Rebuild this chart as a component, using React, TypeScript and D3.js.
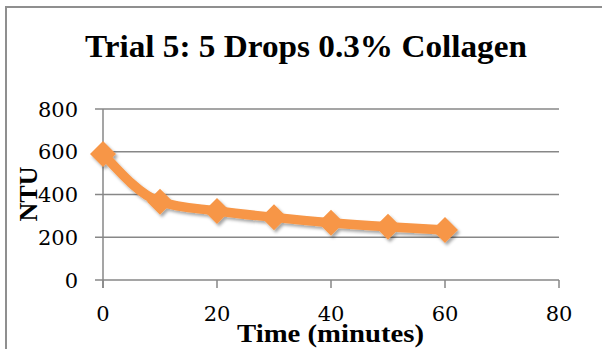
import React from "react";
import * as d3 from "d3";

const times = [0, 10, 20, 30, 40, 50, 60];
const ntu = [590, 366, 323, 293, 268, 249, 234];
const xTicks = [0, 20, 40, 60, 80];
const yTicks = [0, 200, 400, 600, 800];
const title = "Trial 5: 5 Drops 0.3% Collagen";
const xTitle = "Time (minutes)";
const yTitle = "NTU";

const W = 602;
const H = 349;
const serif = "'DejaVu Serif', 'Liberation Serif', serif";
const boldSerif = "'Liberation Serif', serif";

export default function App() {
  const x = d3.scaleLinear().domain([0, 80]).range([103, 559]);
  const y = d3.scaleLinear().domain([0, 800]).range([280, 109]);
  const pts: [number, number][] = times.map((t, i) => [x(t), y(ntu[i])]);
  const line = d3.line().curve(d3.curveMonotoneX)(pts) || "";
  const grid = "#878787";
  const orange = "#F79646";
  const r = 13;
  return (
    <svg
      width={W}
      height={H}
      style={{ position: "absolute", left: 0, top: 0, display: "block", background: "#fff" }}
    >
      <defs>
        <filter id="sh" x="-50%" y="-50%" width="200%" height="200%">
          <feDropShadow dx="2" dy="2.5" stdDeviation="1.8" floodColor="#000" floodOpacity="0.35" />
        </filter>
      </defs>
      <path d={`M6,${H} V7 H${W}`} fill="none" stroke="#8f8f8f" strokeWidth={2} />
      <text
        x={85}
        y={57}
        textLength={442}
        lengthAdjust="spacingAndGlyphs"
        fontFamily={boldSerif}
        fontWeight="bold"
        fontSize={31}
      >
        {title}
      </text>
      {yTicks.map((v) => (
        <g key={v}>
          <line x1={95} x2={559} y1={y(v)} y2={y(v)} stroke={grid} strokeWidth={1.5} />
          <text x={78} y={y(v)} dy="0.36em" textAnchor="end" fontFamily={serif} fontSize={21}>
            {v}
          </text>
        </g>
      ))}
      <line x1={103} x2={103} y1={109} y2={288} stroke={grid} strokeWidth={1.5} />
      {xTicks.map((v) => (
        <g key={v}>
          <line x1={x(v)} x2={x(v)} y1={280} y2={288} stroke={grid} strokeWidth={1.5} />
          <text x={x(v)} y={321} textAnchor="middle" fontFamily={serif} fontSize={21}>
            {v}
          </text>
        </g>
      ))}
      <g filter="url(#sh)">
        <path d={line} fill="none" stroke={orange} strokeWidth={9.5} strokeLinejoin="round" />
        {pts.map(([px, py], i) => (
          <path
            key={i}
            d={`M${px},${py - r} L${px + r},${py} L${px},${py + r} L${px - r},${py} Z`}
            fill={orange}
          />
        ))}
      </g>
      <text
        transform="translate(37,194) rotate(-90)"
        textAnchor="middle"
        fontFamily={boldSerif}
        fontWeight="bold"
        fontSize={26}
      >
        {yTitle}
      </text>
      <text
        x={237}
        y={342}
        textLength={187}
        lengthAdjust="spacingAndGlyphs"
        fontFamily={boldSerif}
        fontWeight="bold"
        fontSize={26}
      >
        {xTitle}
      </text>
    </svg>
  );
}
